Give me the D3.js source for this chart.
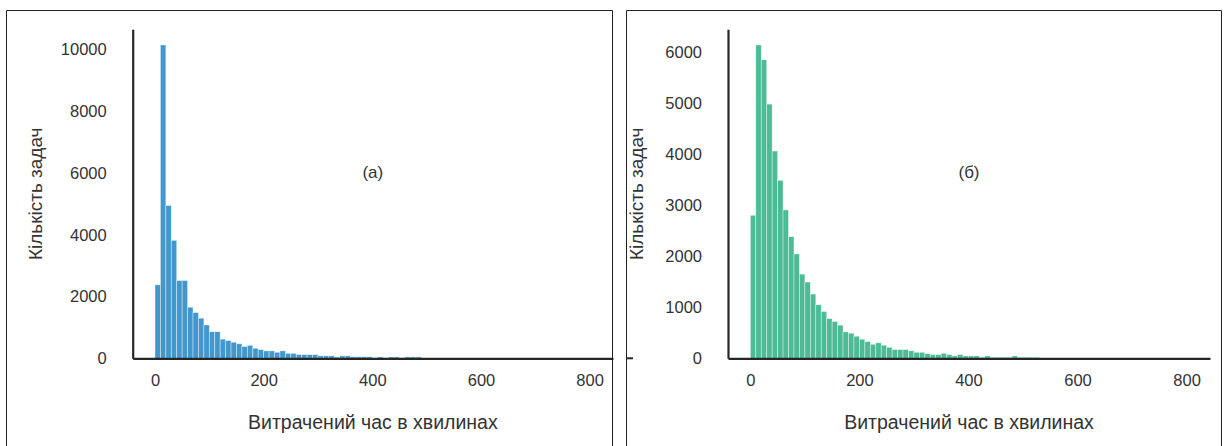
<!DOCTYPE html>
<html>
<head>
<meta charset="utf-8">
<script src="https://cdn.jsdelivr.net/npm/d3@7"></script>
<style>
  body { margin: 0; background: #fff; }
  text { font-family: "Liberation Sans", Arial, sans-serif; }
</style>
</head>
<body>
<div id="chart"></div>
<script>
// bin width in minutes, bins start at 0
const binWidth = 10;

// (а) task counts per 10-minute bin
const countsA = [2380, 10150, 4950, 3820, 2520, 2520, 1655, 1480, 1300, 1080,
  860, 860, 620, 575, 520, 470, 380, 420, 325, 280,
  240, 240, 195, 240, 160, 160, 120, 120, 120, 120,
  80, 80, 80, 40, 80, 80, 50, 50, 50, 50,
  15, 45, 15, 45, 45, 15, 45, 45, 45];

// (б) task counts per 10-minute bin
const countsB = [2805, 6145, 5855, 4985, 4065, 3490, 2910, 2385, 2045, 1650,
  1495, 1260, 1050, 917, 780, 722, 650, 520, 492, 433,
  374, 328, 275, 303, 256, 216, 171, 171, 171, 146,
  118, 118, 92, 73, 73, 98, 73, 47, 73, 47,
  47, 47, 20, 47, 20, 20, 20, 20, 47, 20,
  20, 20, 20];

const xTicks = [0, 200, 400, 600, 800];
const yTicksA = [0, 2000, 4000, 6000, 8000, 10000];
const yTicksB = [0, 1000, 2000, 3000, 4000, 5000, 6000];

const xLabel = "Витрачений час в хвилинах";
const yLabel = "Кількість задач";

const W = 1227, H = 446;
const svg = d3.select("#chart").append("svg")
  .attr("width", W).attr("height", H);

function panel(opts) {
  const g = svg.append("g");
  const x = d3.scaleLinear().domain([-41, 843]).range([opts.left, opts.right]);
  const y = d3.scaleLinear()
    .domain([0, d3.max(opts.counts) * 1.05])
    .range([358.3, 29.3]);

  g.selectAll("rect.bar")
    .data(opts.counts)
    .enter()
    .append("rect")
    .attr("class", "bar")
    .attr("x", (d, i) => x(i * binWidth))
    .attr("width", (d, i) => x((i + 1) * binWidth) - x(i * binWidth))
    .attr("y", d => y(d))
    .attr("height", d => y(0) - y(d))
    .attr("fill", opts.color)
    .attr("stroke", "#fff")
    .attr("stroke-opacity", 0.55)
    .attr("stroke-width", 0.7);

  const xAxis = d3.axisBottom(x).tickValues(xTicks).tickSize(0).tickPadding(16)
    .tickFormat(d3.format("d"));
  const gx = g.append("g")
    .attr("transform", "translate(0," + y(0) + ")")
    .call(xAxis);
  gx.select(".domain").attr("stroke", "#262626").attr("stroke-width", 2.2);
  gx.selectAll("text").attr("font-size", 16.5).attr("fill", "#333")
    .attr("font-family", "Liberation Sans, Arial, sans-serif");

  const yAxis = d3.axisLeft(y).tickValues(opts.yTicks).tickSize(0).tickPadding(26)
    .tickFormat(d3.format("d"));
  const gy = g.append("g")
    .attr("transform", "translate(" + opts.left + ",0)")
    .call(yAxis);
  gy.select(".domain").attr("stroke", "#262626").attr("stroke-width", 2.2);
  gy.selectAll("text").attr("font-size", 16.5).attr("fill", "#333")
    .attr("font-family", "Liberation Sans, Arial, sans-serif");

  g.append("text")
    .attr("x", (opts.left + opts.right) / 2)
    .attr("y", 429)
    .attr("text-anchor", "middle")
    .attr("font-size", 19.5).attr("fill", "#333")
    .text(xLabel);

  g.append("text")
    .attr("transform", "translate(" + opts.yLabelX + "," + ((y.range()[0] + y.range()[1]) / 2) + ") rotate(-90)")
    .attr("text-anchor", "middle")
    .attr("font-size", 19).attr("fill", "#333")
    .text(yLabel);

  g.append("text")
    .attr("x", (opts.left + opts.right) / 2)
    .attr("y", 178)
    .attr("text-anchor", "middle")
    .attr("font-size", 17).attr("fill", "#333")
    .text(opts.tag);
}

panel({ counts: countsA, yTicks: yTicksA, color: "#4298cd",
  left: 132.7, right: 613, yLabelX: 42, tag: "(а)" });
panel({ counts: countsB, yTicks: yTicksB, color: "#4cbb96",
  left: 728, right: 1210, yLabelX: 643, tag: "(б)" });

// frames around the two pictures
svg.append("path")
  .attr("d", "M6.5,446 V10.5 H612.5 V446")
  .attr("fill", "none").attr("stroke", "#222").attr("stroke-width", 1);
svg.append("path")
  .attr("d", "M626.5,446 V10.5 H1221.5 V446")
  .attr("fill", "none").attr("stroke", "#222").attr("stroke-width", 1);
// leftover bit of spine at the right picture's edge
svg.append("line")
  .attr("x1", 626.5).attr("x2", 633).attr("y1", 358.3).attr("y2", 358.3)
  .attr("stroke", "#262626").attr("stroke-width", 2);
</script>
</body>
</html>
